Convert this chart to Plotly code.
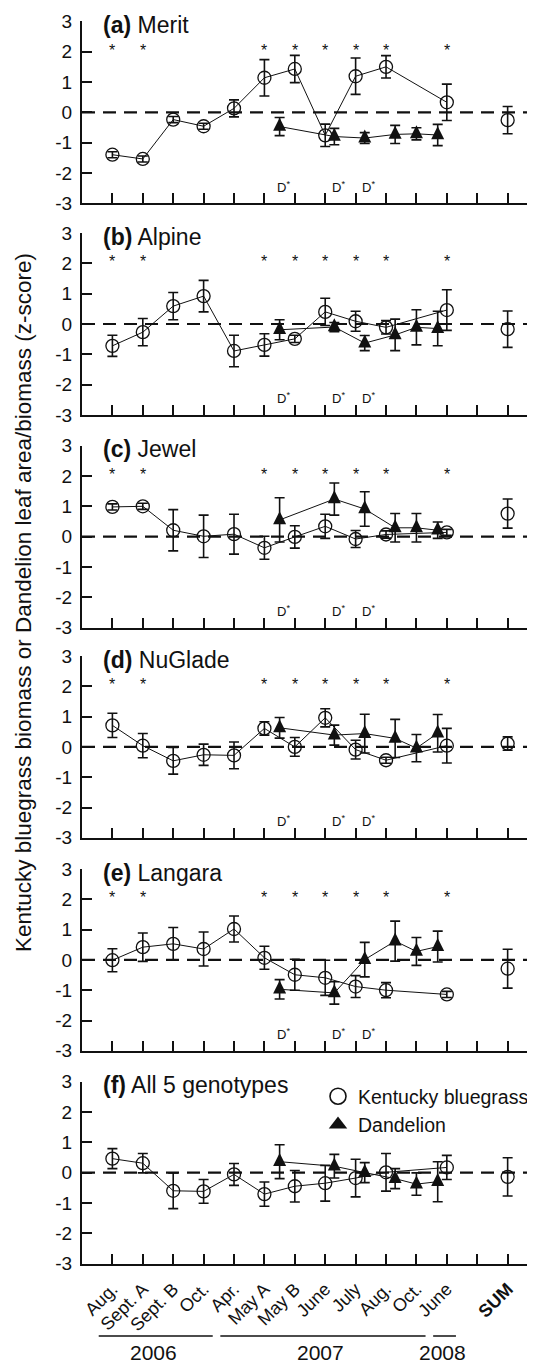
import plotly.graph_objects as go

FONT = "Liberation Sans, Arial, Helvetica, sans-serif"
INK = "#111111"

# ---------------- data ----------------
CAT_LABELS = ["Aug.", "Sept. A", "Sept. B", "Oct.", "Apr.", "May A", "May B",
              "June", "July", "Aug.", "Oct.", "June", "", "<b>SUM</b>"]
CAT_POS = list(range(1, 15))
KB_X = [1, 2, 3, 4, 5, 6, 7, 8, 9, 10, 12]
SUM_X = 14
DAND_X = [6.5, 8.3, 9.3, 10.3, 11, 11.7]
STAR_X = [1, 2, 6, 7, 8, 9, 10, 12]
DSTAR_X = [6.5, 8.3, 9.3]

PANEL_LETTERS = ["a", "b", "c", "d", "e", "f"]
PANEL_NAMES = ["Merit", "Alpine", "Jewel", "NuGlade", "Langara", "All 5 genotypes"]
PANEL_STARS = [True, True, True, True, True, False]

kb_merit = [-1.40, -1.54, -0.24, -0.46, 0.13, 1.14, 1.43, -0.76, 1.19, 1.50, 0.33]
kb_merit_err = [0.10, 0.10, 0.10, 0.10, 0.28, 0.60, 0.45, 0.37, 0.60, 0.37, 0.60]
kb_alpine = [-0.72, -0.27, 0.59, 0.92, -0.89, -0.69, -0.49, 0.40, 0.09, -0.11, 0.46]
kb_alpine_err = [0.35, 0.45, 0.45, 0.52, 0.52, 0.37, 0.12, 0.45, 0.33, 0.22, 0.67]
kb_jewel = [0.98, 1.00, 0.21, 0.01, 0.08, -0.37, -0.01, 0.34, -0.08, 0.07, 0.14]
kb_jewel_err = [0.10, 0.10, 0.68, 0.70, 0.66, 0.38, 0.37, 0.40, 0.28, 0.12, 0.10]
kb_nuglade = [0.71, 0.04, -0.46, -0.26, -0.28, 0.61, 0.00, 0.96, -0.09, -0.44, 0.04]
kb_nuglade_err = [0.40, 0.40, 0.44, 0.35, 0.44, 0.22, 0.31, 0.30, 0.31, 0.10, 0.57]
kb_langara = [-0.01, 0.42, 0.53, 0.36, 1.02, 0.07, -0.49, -0.59, -0.88, -1.00, -1.14]
kb_langara_err = [0.38, 0.47, 0.54, 0.56, 0.43, 0.38, 0.51, 0.58, 0.36, 0.25, 0.10]
kb_all = [0.46, 0.31, -0.60, -0.62, -0.06, -0.71, -0.45, -0.35, -0.18, 0.01, 0.17]
kb_all_err = [0.33, 0.32, 0.59, 0.39, 0.36, 0.40, 0.52, 0.59, 0.62, 0.62, 0.40]

sum_values = [-0.26, -0.17, 0.76, 0.11, -0.29, -0.14]
sum_errors = [0.45, 0.60, 0.48, 0.22, 0.64, 0.63]

d_merit = [-0.47, -0.80, -0.85, -0.73, -0.71, -0.75]
d_merit_err = [0.30, 0.27, 0.18, 0.30, 0.20, 0.35]
d_alpine = [-0.19, -0.10, -0.63, -0.36, -0.11, -0.15]
d_alpine_err = [0.33, 0.15, 0.25, 0.52, 0.58, 0.57]
d_jewel = [0.55, 1.24, 0.91, 0.29, 0.29, 0.21]
d_jewel_err = [0.73, 0.53, 0.57, 0.47, 0.47, 0.27]
d_nuglade = [0.63, 0.39, 0.44, 0.28, -0.04, 0.45]
d_nuglade_err = [0.34, 0.33, 0.64, 0.63, 0.45, 0.62]
d_langara = [-0.97, -1.09, 0.01, 0.62, 0.28, 0.44]
d_langara_err = [0.32, 0.37, 0.57, 0.66, 0.46, 0.51]
d_all = [0.36, 0.21, 0.00, -0.20, -0.38, -0.30]
d_all_err = [0.56, 0.39, 0.33, 0.33, 0.37, 0.66]

KB = [kb_merit, kb_alpine, kb_jewel, kb_nuglade, kb_langara, kb_all]
KB_ERR = [kb_merit_err, kb_alpine_err, kb_jewel_err, kb_nuglade_err, kb_langara_err, kb_all_err]
DAND = [d_merit, d_alpine, d_jewel, d_nuglade, d_langara, d_all]
DAND_ERR = [d_merit_err, d_alpine_err, d_jewel_err, d_nuglade_err, d_langara_err, d_all_err]

YEARS = ["2006", "2007", "2008"]
YEAR_FIRST = [1, 5, 12]
YEAR_LAST = [4, 11, 12]

Y_TICKS = [-3, -2, -1, 0, 1, 2, 3]
Y_TICKTEXT = ["-3", "-2", "-1", "0", "1", "2", "3"]
Y_MIN, Y_MAX = -3, 3

# ---------------- layout geometry ----------------
# the page body adds an 8px margin, so the figure is laid out 8px smaller
OFF = 8
W, H = 535 - OFF, 1366 - OFF
ML = 82 - OFF
PW = W - ML
X_MAX = 14.9
PANEL_TOPS = [21.4, 233.1, 445.7, 656.0, 869.0, 1081.7]   # page pixels
PANEL_H = 181.8


def py(ref_y):
    return 1 - (ref_y - OFF) / H


def px(ref_x):
    return (ref_x - OFF - ML) / PW


fig = go.Figure()

TRI = 13
for i in range(6):
    n = i + 1
    xa = "x" if n == 1 else f"x{n}"
    ya = "y" if n == 1 else f"y{n}"
    fig.add_trace(go.Scatter(x=KB_X, y=KB[i], mode="lines", xaxis=xa, yaxis=ya,
                             line=dict(color=INK, width=1), showlegend=False, hoverinfo="skip"))
    fig.add_trace(go.Scatter(x=DAND_X, y=DAND[i], mode="lines", xaxis=xa, yaxis=ya,
                             line=dict(color=INK, width=1), showlegend=False, hoverinfo="skip"))
    fig.add_trace(go.Scatter(
        x=KB_X + [SUM_X], y=KB[i] + [sum_values[i]], mode="markers", xaxis=xa, yaxis=ya,
        marker=dict(symbol="circle-open", size=13, color=INK, line=dict(width=1.3, color=INK)),
        error_y=dict(type="data", array=KB_ERR[i] + [sum_errors[i]], color=INK,
                     thickness=1.6, width=5),
        showlegend=False))
    fig.add_trace(go.Scatter(
        x=DAND_X, y=DAND[i], mode="markers", xaxis=xa, yaxis=ya,
        marker=dict(symbol="arrow-down", angle=180, standoff=TRI * 2 / 3, size=TRI,
                    color=INK, line=dict(width=0)),
        error_y=dict(type="data", array=DAND_ERR[i], color=INK, thickness=1.6, width=5),
        showlegend=False))
    fig.add_trace(go.Scatter(
        x=DAND_X, y=[Y_MIN - 0.08] * len(DAND_X), mode="markers", xaxis=xa, yaxis=ya,
        marker=dict(symbol="line-ew", size=5, line=dict(width=1.8, color=INK)),
        cliponaxis=False, showlegend=False, hoverinfo="skip"))

# legend-only entries
fig.add_trace(go.Scatter(x=[None], y=[None], mode="markers", xaxis="x6", yaxis="y6",
                         name="Kentucky bluegrass", legendgroup="kb",
                         marker=dict(symbol="circle-open", size=16, color=INK,
                                     line=dict(width=1.6, color=INK))))
fig.add_trace(go.Scatter(x=[None], y=[None], mode="markers", xaxis="x6", yaxis="y6",
                         name="Dandelion", legendgroup="d",
                         marker=dict(symbol="triangle-up", size=16, color=INK)))

layout = dict(
    width=W, height=H,
    margin=dict(l=ML, r=0, t=0, b=0),
    template="none",
    paper_bgcolor="white", plot_bgcolor="white",
    font=dict(family=FONT, color=INK, size=19),
    showlegend=True,
    legend=dict(x=px(318.0), y=py(1077), xanchor="left", yanchor="top",
                font=dict(size=19.5, family=FONT, color=INK), bgcolor="rgba(0,0,0,0)",
                traceorder="grouped", tracegroupgap=0, itemsizing="trace"),
)

shapes = []
annotations = []
for i in range(6):
    n = i + 1
    sfx = "" if n == 1 else str(n)
    top = PANEL_TOPS[i]
    dom = [py(top + PANEL_H), py(top)]
    layout[f"xaxis{sfx}"] = dict(
        domain=[0, 1], range=[0, X_MAX], anchor=f"y{sfx}",
        tickmode="array", tickvals=CAT_POS, ticktext=CAT_LABELS,
        ticks="inside", ticklen=10, tickwidth=2, tickcolor=INK,
        showline=True, linewidth=2, linecolor=INK,
        showgrid=False, zeroline=False, automargin=False,
        showticklabels=(n == 6), tickangle=-45, ticklabelstandoff=6,
        tickfont=dict(size=18, family=FONT, color=INK),
    )
    layout[f"yaxis{sfx}"] = dict(
        domain=dom, range=[Y_MIN, Y_MAX], anchor=f"x{sfx}",
        tickmode="array", tickvals=Y_TICKS, ticktext=Y_TICKTEXT,
        ticks="inside", ticklen=10, tickwidth=2, tickcolor=INK,
        showline=True, linewidth=2, linecolor=INK,
        showgrid=False, zeroline=False, automargin=False,
        ticklabelstandoff=4,
        tickfont=dict(size=19, family=FONT, color=INK),
    )
    shapes.append(dict(type="line", xref=f"x{sfx} domain", x0=0, x1=1,
                       yref=f"y{sfx}", y0=0, y1=0, layer="below",
                       line=dict(color=INK, width=2.2, dash="13px,8px")))
    annotations.append(dict(text=f"<b>({PANEL_LETTERS[i]})</b> {PANEL_NAMES[i]}",
                            xref=f"x{sfx}", yref=f"y{sfx}", x=0.62, y=2.88,
                            xanchor="left", yanchor="middle", showarrow=False,
                            font=dict(size=23, family=FONT, color=INK)))
    if PANEL_STARS[i]:
        for sx in STAR_X:
            annotations.append(dict(text="*", xref=f"x{sfx}", yref=f"y{sfx}", x=sx, y=2.05,
                                    xanchor="center", yanchor="middle", showarrow=False,
                                    font=dict(size=16, family=FONT, color=INK)))
        for dx in DSTAR_X:
            annotations.append(dict(text="D<sup>*</sup>", xref=f"x{sfx}", yref=f"y{sfx}",
                                    x=dx, y=-2.45, xanchor="left", xshift=-4.5,
                                    yanchor="middle", showarrow=False,
                                    font=dict(size=13, family=FONT, color=INK)))

for yr, a, b in zip(YEARS, YEAR_FIRST, YEAR_LAST):
    x0, x1 = a - 0.45, b + 0.3
    shapes.append(dict(type="line", xref="x6", yref="paper", x0=x0, x1=x1,
                       y0=py(1336), y1=py(1336), line=dict(color=INK, width=1.5)))
    annotations.append(dict(text=yr, xref="x6", yref="paper", x=(x0 + x1) / 2 - 0.08,
                            y=py(1352), xanchor="center", yanchor="middle",
                            showarrow=False, font=dict(size=21, family=FONT, color=INK)))

annotations.append(dict(
    text="Kentucky bluegrass biomass or Dandelion leaf area/biomass (z-score)",
    xref="paper", yref="paper", x=px(23), y=py(603),
    xanchor="center", yanchor="middle", textangle=-90, showarrow=False,
    font=dict(size=22.5, family=FONT, color=INK)))

layout["shapes"] = shapes
layout["annotations"] = annotations
fig.update_layout(**layout)

fig.write_html("out.html")
